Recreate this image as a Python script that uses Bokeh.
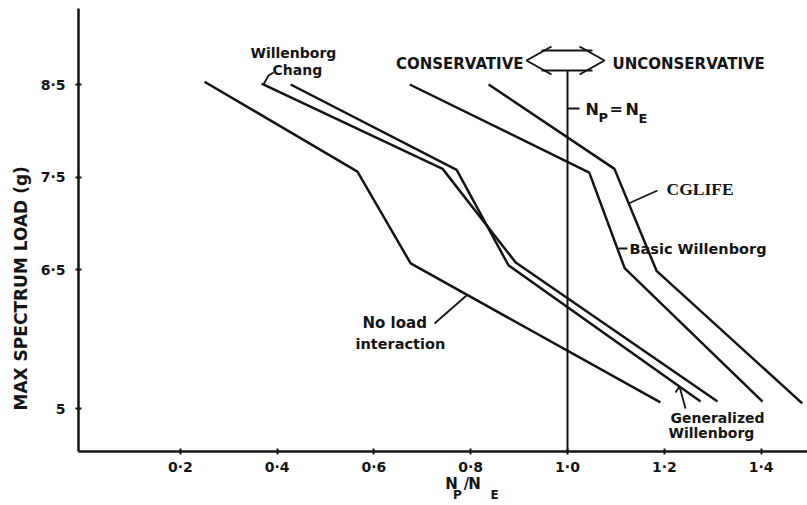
from bokeh.plotting import figure
from bokeh.models import Range1d, FixedTicker, Label, LinearAxis, Title
from bokeh.embed import file_html
from bokeh.resources import INLINE

# ---------------- data ----------------
no_load_x = [0.250, 0.566, 0.676, 1.192]
no_load_y = [8.53, 7.56, 6.57, 5.07]

chang_x = [0.368, 0.742, 0.893, 1.310]
chang_y = [8.51, 7.59, 6.58, 5.08]

generalized_x = [0.428, 0.771, 0.878, 1.275]
generalized_y = [8.50, 7.58, 6.55, 5.08]

basic_x = [0.674, 1.045, 1.118, 1.403]
basic_y = [8.50, 7.55, 6.52, 5.08]

cglife_x = [0.837, 1.097, 1.184, 1.485]
cglife_y = [8.50, 7.59, 6.49, 5.06]

x_ticks = [0.2, 0.4, 0.6, 0.8, 1.0, 1.2, 1.4]
x_tick_labels = ["0·2", "0·4", "0·6", "0·8", "1·0", "1·2", "1·4"]
y_ticks = [5, 6.5, 7.5, 8.5]
y_tick_labels = ["5", "6·5", "7·5", "8·5"]

np_equals_ne = 1.0

# ---------------- layout helpers (pixel -> data for annotations) ----------------
W, H = 807, 505
def X(px):
    return (px - 83) / 484.0
def Y(py):
    return 8.5 - (py - 84) / 92.7

INK = "#141414"
FONT = "DejaVu Sans"

p = figure(width=W, height=H, output_backend="svg", toolbar_location=None,
           x_range=Range1d(X(78), X(807)), y_range=Range1d(Y(451), Y(8)),
           min_border_left=78, min_border_right=0, min_border_top=8,
           min_border_bottom=54)
p.outline_line_color = None
p.background_fill_color = "white"
p.border_fill_color = "white"
p.xgrid.visible = False
p.ygrid.visible = False

for ax, ticks, labels in ((p.xaxis, x_ticks, x_tick_labels), (p.yaxis, y_ticks, y_tick_labels)):
    ax.ticker = FixedTicker(ticks=ticks)
    ax.major_label_overrides = {t: l for t, l in zip(ticks, labels)}
    ax.axis_line_color = INK
    ax.axis_line_width = 2.5
    ax.major_tick_line_color = INK
    ax.major_tick_line_width = 2
    ax.major_tick_in = 3
    ax.major_tick_out = 3
    ax.minor_tick_line_color = None
    ax.major_label_text_font = FONT
    ax.major_label_text_font_style = "bold"
    ax.major_label_text_font_size = "14px"
    ax.major_label_text_color = INK
p.xaxis.major_label_standoff = 4
p.yaxis.major_label_standoff = 10

# x axis title N_P / N_E built from two label-only axes (main letters, then subscripts)
def text_axis(pos_text, size, standoff):
    ax = LinearAxis(ticker=FixedTicker(ticks=[X(a) for a, t in pos_text]),
                    major_label_overrides={X(a): t for a, t in pos_text})
    ax.axis_line_color = None
    ax.major_tick_line_color = None
    ax.major_tick_in = 0
    ax.major_tick_out = 0
    ax.minor_tick_line_color = None
    ax.minor_tick_in = 0
    ax.minor_tick_out = 0
    ax.major_label_standoff = standoff
    ax.major_label_text_font = FONT
    ax.major_label_text_font_style = "bold"
    ax.major_label_text_font_size = size
    ax.major_label_text_color = INK
    p.add_layout(ax, "below")

text_axis([(451, "N"), (466, "/"), (474, "N")], "15px", -3)
text_axis([(457, "P"), (494, "E")], "12px", -8)

# y axis title
p.add_layout(Title(text="MAX SPECTRUM LOAD (g)", align="left", offset=41,
                   vertical_align="middle",
                   text_font=FONT, text_font_style="bold", text_font_size="17px",
                   text_color=INK, standoff=12), "left")

LW = 2.5
for xs, ys in ((no_load_x, no_load_y), (chang_x, chang_y), (generalized_x, generalized_y),
               (basic_x, basic_y), (cglife_x, cglife_y)):
    p.line(xs, ys, line_color=INK, line_width=LW)

# N_P = N_E reference line
p.line([np_equals_ne, np_equals_ne], [Y(451), Y(70)], line_color=INK, line_width=2)

# hollow double arrow
def seg(pts, w=2):
    p.line([X(a) for a, b in pts], [Y(b) for a, b in pts], line_color=INK, line_width=w)

seg([(541, 50), (592, 50)])
seg([(541, 70), (592, 70)])
seg([(551, 46), (526, 60), (551, 74)])
seg([(579, 46), (604, 60), (579, 74)])

# pointers
seg([(567, 108), (579, 108)])                 # N_P = N_E
seg([(263, 84), (268, 75), (273, 72)], 1.8)    # Chang
seg([(628, 203), (657, 190)], 1.8)             # CGLIFE
seg([(618, 248), (627, 248)], 1.8)             # Basic Willenborg
seg([(434, 323), (466, 295)], 1.8)             # No load interaction
seg([(685, 408), (679, 386), (675, 392)], 1.8) # Generalized Willenborg

def lab(text, px, py, size="14.5px", align="left", font=FONT, style="bold"):
    p.add_layout(Label(x=X(px), y=Y(py), text=text, text_font=font,
                       text_font_style=style, text_font_size=size,
                       text_color=INK, text_align=align, text_baseline="middle"))

lab("CONSERVATIVE", 523, 63, "15px", "right")
lab("UNCONSERVATIVE", 612, 63, "15px")
lab("Willenborg", 250, 52, "14px")
lab("Chang", 272, 69, "14px")
lab("CGLIFE", 666, 188, "17.5px", font="Liberation Serif")
lab("Basic Willenborg", 629, 248, "14.5px")
lab("No load", 362, 322, "15px")
lab("interaction", 355, 343, "14.5px")
lab("Generalized", 670, 417, "14px")
lab("Willenborg", 668, 432, "14px")

# N_P = N_E label
lab("N", 585, 109, "16px")
lab("P", 598, 117, "13px")
lab("=", 609, 108, "16px")
lab("N", 625, 109, "16px")
lab("E", 638, 118, "13px")

open("out.html", "w").write(file_html(p, INLINE))
